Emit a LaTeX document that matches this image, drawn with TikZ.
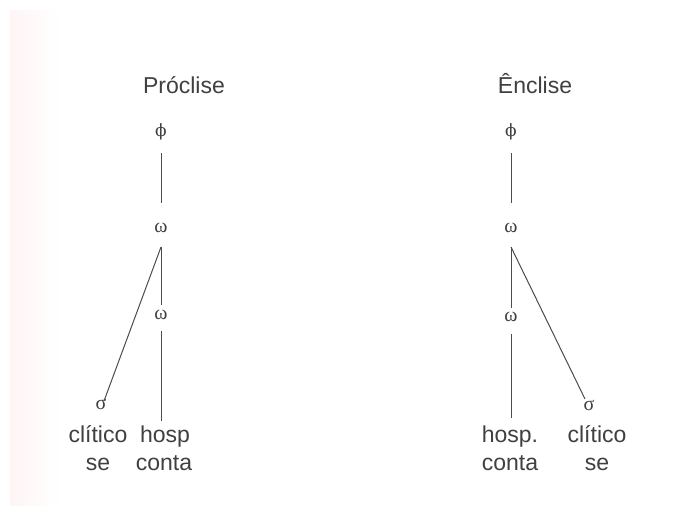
\documentclass[tikz,border=0pt]{standalone}
\usepackage{fontspec}
\setmainfont{Liberation Sans}
\newfontfamily\grk{Liberation Serif}
\newfontfamily\phif{DejaVu Serif}
\begin{document}
\begin{tikzpicture}[x=1pt,y=-1pt,
  lbl/.style={inner sep=0pt,anchor=base,font=\fontsize{23}{26}\selectfont,text=black!75},
  sym/.style={inner sep=0pt,font=\grk\fontsize{20}{24}\selectfont,text=black!75},
  phis/.style={inner sep=0pt,font=\phif\fontsize{17}{20}\selectfont,text=black!75},
  edge/.style={draw=black!70,line width=1pt}]
\useasboundingbox[fill=white] (0,0) rectangle (686,514);
\shade[left color=red!4,right color=white] (10,10) rectangle (60,505);
% Proclise
\node[lbl] (tp) at (184,93) {Próclise};
\node[phis] (pphi) at (161,132) {ϕ};
\node[sym] (pw1) at (161,228) {ω};
\node[sym] (pw2) at (161,315) {ω};
\node[sym] (psig) at (101,404) {σ};
\node[lbl] (pcl) at (98,442) {clítico};
\node[lbl] (pse) at (98,470) {se};
\node[lbl] (pho) at (165,442) {hosp};
\node[lbl] (pco) at (164,470) {conta};
\coordinate (pa) at (161,153);
\coordinate (pb) at (161,203);
\coordinate (pc) at (161,247);
\coordinate (pd) at (161,305);
\coordinate (pe) at (161,331);
\coordinate (pf) at (161,421);
\coordinate (pg) at (104,401);
\draw[edge] (pa) -- (pb);
\draw[edge] (pc) -- (pd);
\draw[edge] (pe) -- (pf);
\draw[edge] (pc) -- (pg);
% Enclise
\node[lbl] (te) at (535,93) {Ênclise};
\node[phis] (ephi) at (511,132) {ϕ};
\node[sym] (ew1) at (511,228) {ω};
\node[sym] (ew2) at (511,317) {ω};
\node[sym] (esig) at (589,405) {σ};
\node[lbl] (eho) at (510,442) {hosp.};
\node[lbl] (eco) at (510,470) {conta};
\node[lbl] (ecl) at (597,442) {clítico};
\node[lbl] (ese) at (597,470) {se};
\coordinate (ea) at (511,153);
\coordinate (eb) at (511,203);
\coordinate (ec) at (511,247);
\coordinate (ed) at (511,308);
\coordinate (ee) at (511,334);
\coordinate (ef) at (511,418);
\coordinate (eg) at (585,399);
\draw[edge] (ea) -- (eb);
\draw[edge] (ec) -- (ed);
\draw[edge] (ee) -- (ef);
\draw[edge] (ec) -- (eg);
\end{tikzpicture}
\end{document}
